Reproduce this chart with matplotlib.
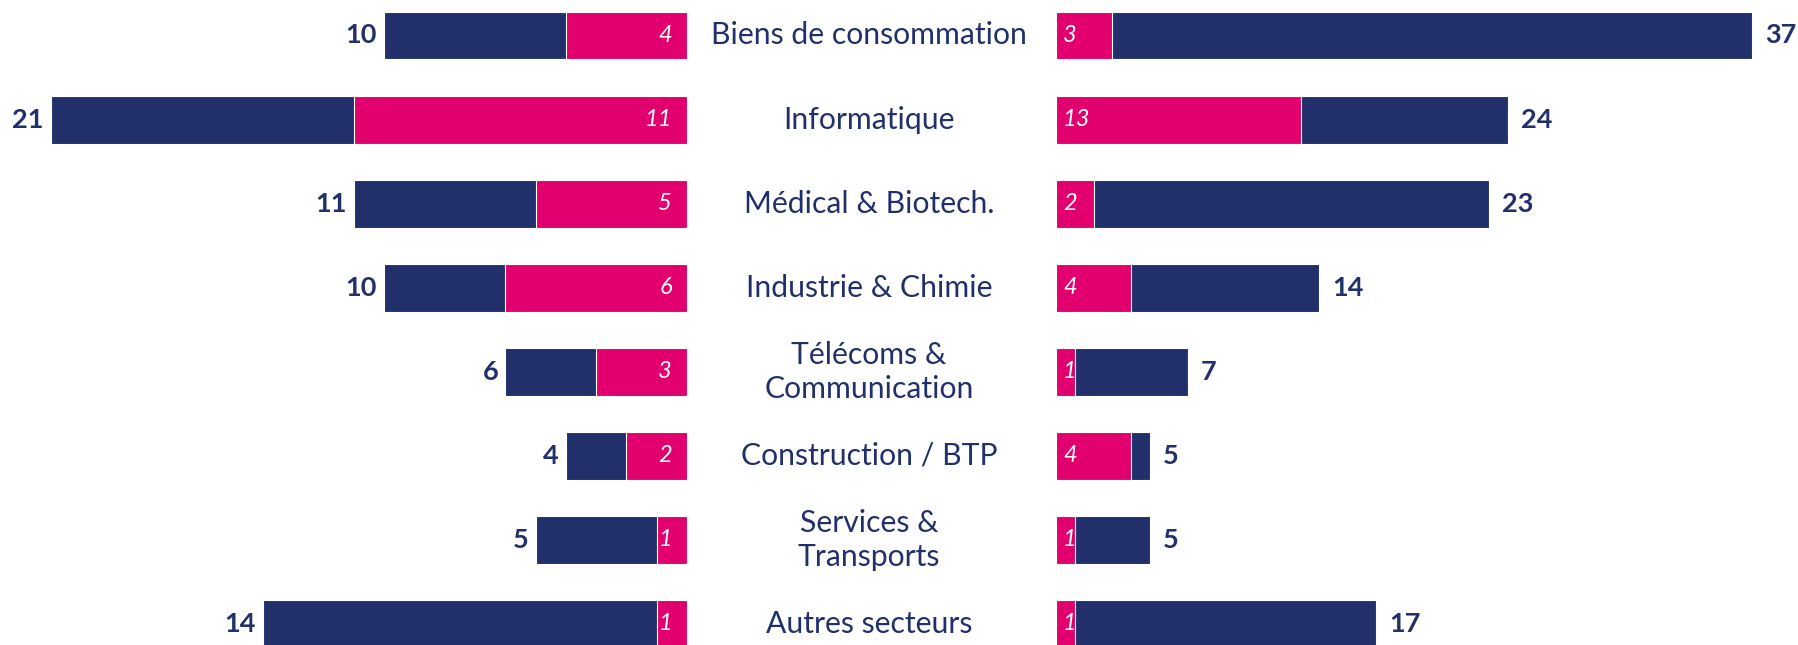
import matplotlib.pyplot as plt
from matplotlib.transforms import blended_transform_factory

sectors = ['Biens de consommation', 'Informatique', 'Médical & Biotech.',
           'Industrie & Chimie', 'Télécoms &\nCommunication', 'Construction / BTP',
           'Services &\nTransports', 'Autres secteurs']
left_total = [10, 21, 11, 10, 6, 4, 5, 14]
left_pink = [4, 11, 5, 6, 3, 2, 1, 1]
right_total = [37, 24, 23, 14, 7, 5, 5, 17]
right_pink = [3, 13, 2, 4, 1, 4, 1, 1]

navy = '#21306b'
pink = '#e2006f'

plt.rcParams['font.family'] = ['Lato', 'DejaVu Sans']

W, H = 1798, 645
fig = plt.figure(figsize=(W / 100, H / 100), dpi=100)

# left panel: 0..687 px, right panel: 1056..1798 px
axl = fig.add_axes([0, 0, 687 / W, 1])
axr = fig.add_axes([1056 / W, 0, (W - 1056) / W, 1])

rows = list(range(len(sectors)))
bh = 0.57

axl.barh(rows, left_total, height=bh, color=navy, edgecolor='white', linewidth=0.8)
axl.barh(rows, left_pink, height=bh, color=pink, edgecolor='white', linewidth=0.8)
axr.barh(rows, right_total, height=bh, color=navy, edgecolor='white', linewidth=0.8)
axr.barh(rows, right_pink, height=bh, color=pink, edgecolor='white', linewidth=0.8)

axl.set_xlim(687 / 30.3, 0)
axr.set_xlim(0, (W - 1056) / 18.82)
for ax in (axl, axr):
    ax.set_ylim(7.25, -0.422)
    ax.axis('off')

for i in rows:
    axl.annotate(str(left_total[i]), (left_total[i], i), xytext=(-7, 0),
                 textcoords='offset pixels', ha='right', va='center',
                 fontsize=19.5, fontweight='bold', color=navy)
    axl.annotate(str(left_pink[i]), (0, i), xytext=(-15, 0),
                 textcoords='offset pixels', ha='right', va='center',
                 fontsize=17, style='italic', color='white')
    axr.annotate(str(right_total[i]), (right_total[i], i), xytext=(13, 0),
                 textcoords='offset pixels', ha='left', va='center',
                 fontsize=19.5, fontweight='bold', color=navy)
    axr.annotate(str(right_pink[i]), (0, i), xytext=(7, 0),
                 textcoords='offset pixels', ha='left', va='center',
                 fontsize=17, style='italic', color='white')

tr = blended_transform_factory(fig.transFigure, axl.transData)
for i, s in enumerate(sectors):
    axl.text(869 / W, i, s, transform=tr, ha='center', va='center',
             fontsize=21.7, color=navy, linespacing=1.25)

fig.savefig('out.png', dpi=100)
